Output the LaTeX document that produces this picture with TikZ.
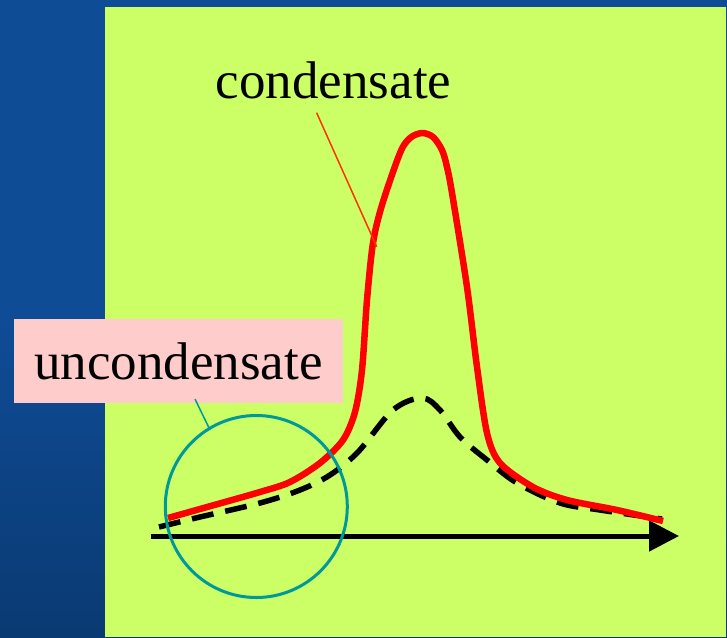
\documentclass[tikz,border=0pt]{standalone}
\usepackage{fontspec}
\setmainfont{Liberation Serif}
\usetikzlibrary{arrows.meta}
\definecolor{bgblue}{HTML}{0F4C96}
\definecolor{bgdark}{HTML}{0A3A72}
\definecolor{panelgreen}{HTML}{CCFF66}
\definecolor{labelpink}{HTML}{FFCCCC}
\definecolor{ringteal}{HTML}{009999}
\definecolor{leaderred}{HTML}{FF3300}
\tikzset{
  labeltext/.style={font=\fontsize{53}{60}\selectfont, text=black, inner sep=0pt},
  condcurve/.style={draw=red, line width=6.5pt, line cap=butt, line join=round},
  uncondcurve/.style={draw=black, line width=5.5pt, dash pattern=on 22pt off 12pt},
  axisline/.style={line width=5pt, -{Triangle[length=30pt,width=30pt]}},
}
\begin{document}
\begin{tikzpicture}[x=1pt,y=-1pt]
\useasboundingbox (0,0) rectangle (727,637);
% background
\shade[top color=bgblue, bottom color=bgdark, middle color=bgblue] (0,0) rectangle (727,637);
\fill[panelgreen] (105,7) rectangle (726,637);
% axis
\coordinate (axstart) at (150.7,536);
\coordinate (axend) at (679,536);
\draw[axisline] (axstart) -- (axend);
% dashed (uncondensed) curve
\draw[uncondcurve] plot[smooth, tension=0.55] coordinates {
 (159,527) (200,517) (260,503) (300,490) (330,475) (358,452)
 (393,410) (422,398) (440,410) (460,437) (487,460) (517,483)
 (560,503) (600,510) (662,519)};
% red condensate curve
\draw[condcurve] plot[smooth, tension=0.5] coordinates {
 (168,518) (200,509) (260,492) (290,482) (320,463) (343,440)
 (355,412) (362,370) (367,300) (373,243) (382,205) (400,153)
 (410,138) (422,133) (433,137) (442,150) (447,167) (452,193)
 (467,287) (477,367) (487,433)
 (500,463) (533,487) (567,500) (617,510) (663,521)};
% circle
\node[draw=ringteal, line width=3pt, circle, minimum size=182pt, inner sep=0pt] (ring) at (256.3,506.5) {};
% labels
\node[labeltext, anchor=base west] (cond) at (215.6,98) {condensate};
\coordinate (condfoot) at (316.6,112.7);
\coordinate (condtip) at (376.7,246.7);
\draw[leaderred, line width=1.5pt] (condfoot) -- (condtip);
\node[labeltext, fill=labelpink, minimum width=329pt, minimum height=84pt] (uncond) at (178.5,361) {uncondensate};
\coordinate (uncondfoot) at (195,399);
\coordinate (ringtip) at (210,430);
\draw[ringteal, line width=1.5pt] (uncondfoot) -- (ringtip);
\end{tikzpicture}
\end{document}
